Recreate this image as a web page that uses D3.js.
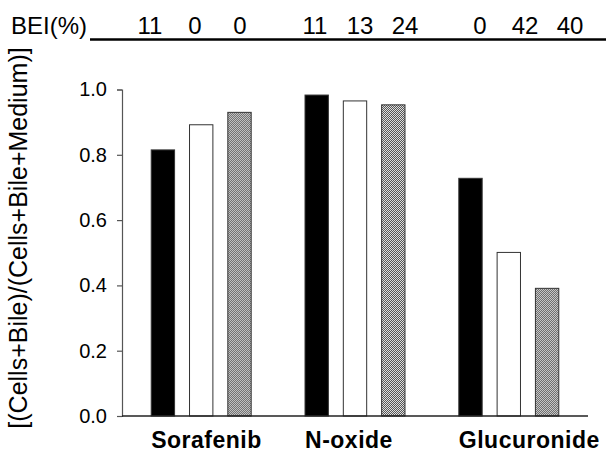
<!DOCTYPE html>
<html>
<head>
<meta charset="utf-8">
<script src="https://cdn.jsdelivr.net/npm/d3@7"></script>
<style>
  body { margin: 0; background: #fff; }
  svg { display: block; font-family: "Liberation Sans", Arial, sans-serif; }
</style>
</head>
<body>
<svg id="chart" width="616" height="454"></svg>
<script>
// data
var groups = ["Sorafenib", "N-oxide", "Glucuronide"];
var series = ["black", "white", "gray"];
var sorafenib = [0.815, 0.892, 0.930];
var noxide = [0.983, 0.965, 0.953];
var glucuronide = [0.728, 0.501, 0.391];
var bei = [["11", "0", "0"], ["11", "13", "24"], ["0", "42", "40"]];
var yTicks = [0.0, 0.2, 0.4, 0.6, 0.8, 1.0];

var values = [sorafenib, noxide, glucuronide];
var data = groups.map(function(g, i) {
  return { group: g, values: values[i], bei: bei[i] };
});

var svg = d3.select("#chart");

// pattern for the dotted gray bars
var pat = svg.append("defs").append("pattern")
  .attr("id", "dots")
  .attr("width", 2)
  .attr("height", 2)
  .attr("patternUnits", "userSpaceOnUse");
pat.append("rect").attr("width", 2).attr("height", 2).attr("fill", "#e0e0e0");
pat.append("rect").attr("width", 1).attr("height", 1).attr("fill", "#555").attr("shape-rendering", "crispEdges");
pat.append("rect").attr("x", 1).attr("y", 1).attr("width", 1).attr("height", 1).attr("fill", "#555").attr("shape-rendering", "crispEdges");

var x0 = d3.scaleBand()
  .domain(groups)
  .range([122, 588])
  .paddingInner(0.35)
  .paddingOuter(0.19);

var x1 = d3.scaleBand()
  .domain(series)
  .range([0, x0.bandwidth()])
  .paddingInner(0.39)
  .paddingOuter(0);

var y = d3.scaleLinear()
  .domain([0, 1])
  .range([416, 89.5]);

// BEI row has its own spacing
var xb = d3.scaleBand()
  .domain(groups)
  .range([112.5, 607.5]);

var fills = { black: "#000", white: "#fff", gray: "url(#dots)" };
var strokes = { black: "#333", white: "#333", gray: "#333" };

// bars
var g = svg.append("g").selectAll("g")
  .data(data)
  .enter().append("g")
  .attr("transform", function(d) { return "translate(" + x0(d.group) + ",0)"; });

g.selectAll("rect")
  .data(function(d) {
    return series.map(function(s, i) { return { key: s, value: d.values[i] }; });
  })
  .enter().append("rect")
  .attr("x", function(d) { return x1(d.key); })
  .attr("y", function(d) { return y(d.value); })
  .attr("width", x1.bandwidth())
  .attr("height", function(d) { return y(0) - y(d.value); })
  .attr("fill", function(d) { return fills[d.key]; })
  .attr("stroke", function(d) { return strokes[d.key]; })
  .attr("stroke-width", 1);

// y axis
var yAxis = svg.append("g")
  .attr("transform", "translate(122,0)")
  .call(d3.axisLeft(y).tickValues(yTicks).tickSize(5).tickPadding(10).tickFormat(d3.format(".1f")));
yAxis.select(".domain").attr("stroke", "#555").attr("stroke-width", 1.2);
yAxis.selectAll(".tick line").attr("stroke", "#555").attr("stroke-width", 1.2);
yAxis.selectAll(".tick text")
  .attr("font-size", 20)
  .attr("fill", "#000")
  .attr("font-family", "Liberation Sans, Arial, sans-serif");

// x baseline
svg.append("line")
  .attr("x1", 122)
  .attr("x2", 588)
  .attr("y1", y(0))
  .attr("y2", y(0))
  .attr("stroke", "#222")
  .attr("stroke-width", 1.5);

// category labels, left aligned with each group
svg.append("g").selectAll("text")
  .data(groups)
  .enter().append("text")
  .attr("x", function(d) { return x0(d); })
  .attr("y", 448)
  .attr("font-size", 23)
  .attr("font-weight", "bold")
  .attr("letter-spacing", 0.5)
  .text(function(d) { return d; });

// y label
svg.append("text")
  .attr("transform", "translate(27,238) rotate(-90)")
  .attr("text-anchor", "middle")
  .attr("font-size", 25)
  .text("[(Cells+Bile)/(Cells+Bile+Medium)]");

// BEI header
svg.append("text")
  .attr("x", 11)
  .attr("y", 34)
  .attr("font-size", 24)
  .text("BEI(%)");

svg.append("line")
  .attr("x1", 90)
  .attr("x2", 606)
  .attr("y1", 39.5)
  .attr("y2", 39.5)
  .attr("stroke", "#000")
  .attr("stroke-width", 2.6);

svg.append("g").selectAll("g")
  .data(data)
  .enter().append("g")
  .selectAll("text")
  .data(function(d) {
    return d.bei.map(function(v, i) { return { group: d.group, v: v, i: i }; });
  })
  .enter().append("text")
  .attr("x", function(d) { return xb(d.group) + xb.bandwidth() / 2 + (d.i - 1) * 45; })
  .attr("y", 34)
  .attr("text-anchor", "middle")
  .attr("font-size", 24)
  .text(function(d) { return d.v; });
</script>
</body>
</html>
